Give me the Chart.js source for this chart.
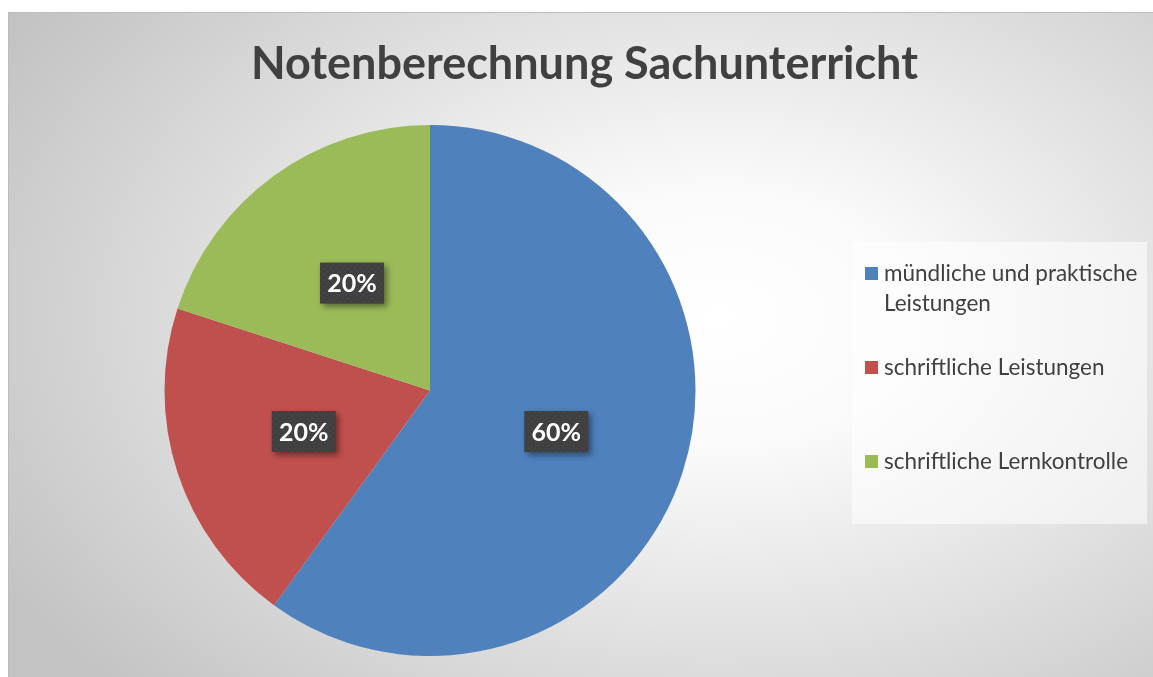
<!DOCTYPE html>
<html>
<head>
  <meta charset="utf-8">
  <title>Notenberechnung Sachunterricht</title>
  <script src="https://cdn.jsdelivr.net/npm/chart.js"></script>
  <style>
    body {
      margin: 0;
      background: #fff;
      font-family: Lato, "Open Sans", sans-serif;
    }
    .chart-wrap {
      position: absolute;
      left: 8px;
      top: 12px;
      width: 1145px;
      height: 665px;
      background: radial-gradient(ellipse 72% 82% at 62% 46%, #ffffff 0%, #fafafa 24%, #c3c3c3 100%);
      box-shadow: inset 1px 1px 0 #bdbdbd;
    }
    .chart-wrap canvas {
      position: absolute;
      left: 0;
      top: 0;
    }
    /* legend box on the right */
    .legend {
      position: absolute;
      left: 844px;
      top: 230px;
      width: 295px;
      height: 282px;
      background: rgba(255, 255, 255, 0.55);
    }
    .legend-item {
      position: relative;
      height: 94px;
      box-sizing: border-box;
      padding: 16px 0 0 32px;
      font-size: 22.5px;
      line-height: 30px;
      color: #404040;
    }
    .legend-item .swatch {
      position: absolute;
      left: 13px;
      top: 25px;
      width: 13px;
      height: 13px;
    }
  </style>
</head>
<body>
<div class="chart-wrap">
  <canvas id="pieChart" width="1145" height="665"></canvas>
  <div class="legend" id="legend"></div>
</div>

<script>
  // ----- data -----
  const titleText = 'Notenberechnung Sachunterricht';
  const categories = ['mündliche und praktische Leistungen', 'schriftliche Leistungen', 'schriftliche Lernkontrolle'];
  const values = [60, 20, 20];
  const colors = ['#4f81bd', '#c0504d', '#9bbb59'];

  // dark dotted fill for the value boxes
  const patCanvas = document.createElement('canvas');
  patCanvas.width = 6;
  patCanvas.height = 6;
  const pctx = patCanvas.getContext('2d');
  pctx.fillStyle = '#404040';
  pctx.fillRect(0, 0, 6, 6);
  pctx.fillStyle = '#4d4d4d';
  pctx.fillRect(1, 1, 1, 1);
  pctx.fillRect(4, 4, 1, 1);
  const dotPattern = pctx.createPattern(patCanvas, 'repeat');

  // title centred over the whole chart box (not just the pie area)
  const chartTitle = {
    id: 'chartTitle',
    afterDraw(chart) {
      const ctx = chart.ctx;
      ctx.save();
      ctx.font = 'bold 45px Lato';
      ctx.fillStyle = '#404040';
      ctx.textAlign = 'center';
      ctx.textBaseline = 'alphabetic';
      ctx.fillText(titleText, chart.width / 2 + 4, 67);
      ctx.restore();
    }
  };

  // percentage labels in dark boxes
  const boxLabels = {
    id: 'boxLabels',
    afterDatasetsDraw(chart) {
      const ctx = chart.ctx;
      const meta = chart.getDatasetMeta(0);
      const total = values.reduce((a, b) => a + b, 0);
      ctx.save();
      ctx.font = 'bold 25px Lato';
      meta.data.forEach((arc, i) => {
        const p = arc.tooltipPosition();
        const text = Math.round(values[i] / total * 100) + '%';
        const w = 64, h = 41;
        ctx.shadowColor = 'rgba(0,0,0,0.45)';
        ctx.shadowBlur = 6;
        ctx.shadowOffsetX = 3;
        ctx.shadowOffsetY = 3;
        ctx.fillStyle = dotPattern;
        ctx.fillRect(p.x - w / 2, p.y - h / 2, w, h);
        ctx.shadowColor = 'transparent';
        ctx.fillStyle = '#ffffff';
        ctx.textAlign = 'center';
        ctx.textBaseline = 'middle';
        ctx.fillText(text, p.x, p.y + 1);
      });
      ctx.restore();
    }
  };

  const ctx = document.getElementById('pieChart').getContext('2d');
  const pieChart = new Chart(ctx, {
    type: 'pie',
    data: {
      labels: categories,
      datasets: [{
        data: values,
        backgroundColor: colors,
        borderWidth: 0
      }]
    },
    options: {
      responsive: false,
      animation: false,
      layout: {
        padding: { top: 113, bottom: 21, left: 0, right: 301 }
      },
      plugins: {
        legend: { display: false },
        title: { display: false }
      }
    },
    plugins: [boxLabels, chartTitle]
  });

  // html legend built from the same arrays
  const legendEl = document.getElementById('legend');
  categories.forEach((label, i) => {
    const item = document.createElement('div');
    item.className = 'legend-item';
    const sw = document.createElement('span');
    sw.className = 'swatch';
    sw.style.background = colors[i];
    item.appendChild(sw);
    item.appendChild(document.createTextNode(label));
    legendEl.appendChild(item);
  });
</script>
</body>
</html>
